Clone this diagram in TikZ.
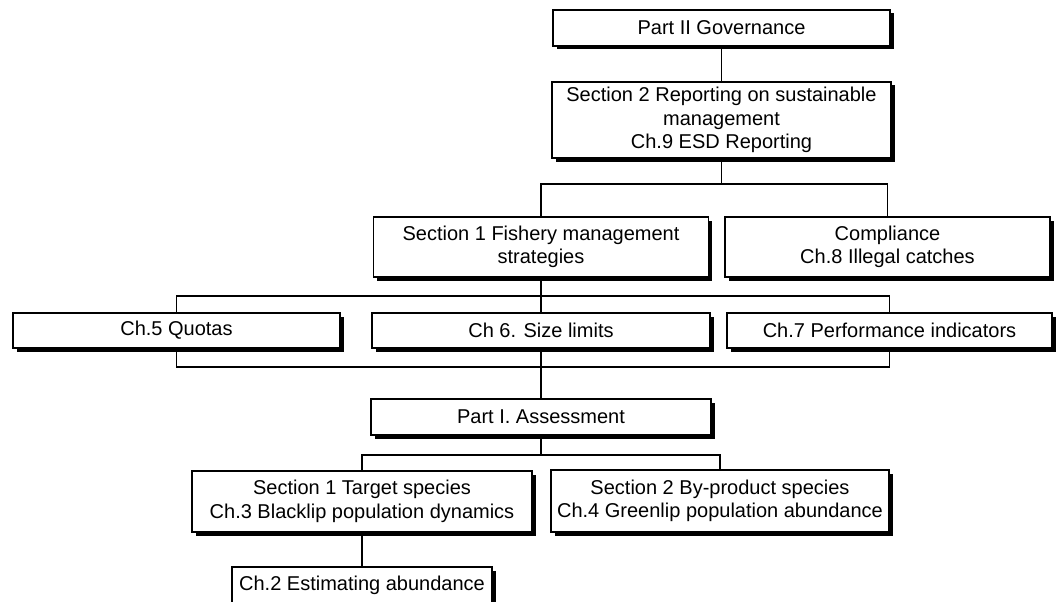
\documentclass[tikz,border=0pt]{standalone}
\usepackage{fontspec}
\setmainfont{Liberation Sans}
\usetikzlibrary{positioning,shadows}
\pgfdeclarelayer{back}
\pgfsetlayers{back,main}

\begin{document}
\begin{tikzpicture}[
    x=1pt, y=-1pt,
    box/.style={draw, fill=white, line width=1.3pt, align=center, inner sep=0pt,
                font=\fontsize{20}{23.5}\selectfont,
                drop shadow={shadow xshift=3.5pt, shadow yshift=-3.5pt, fill=black, opacity=1}},
    conn/.style={line width=1.3pt}
  ]
  \useasboundingbox (0,0) rectangle (1063,602);

  % --- Part II ---
  \node[box, minimum width=337pt, minimum height=36pt] (gov) at (721.5,28) {Part II Governance};
  \node[box, minimum width=339pt, minimum height=76pt] (rep) at (721.5,120)
    {Section 2 Reporting on sustainable\\management\\Ch.9 ESD Reporting};
  \node[box, minimum width=335pt, minimum height=60pt] (fish) at (541,247)
    {Section 1 Fishery management\\strategies};
  \node[box, minimum width=325pt, minimum height=60pt] (comp) at (887.5,247)
    {Compliance\\Ch.8 Illegal catches};

  % --- Chapters ---
  \node[box, minimum width=327pt, minimum height=35pt] (quota) at (176.5,330.5) {Ch.5 Quotas};
  \node[box, minimum width=338pt, minimum height=35pt] (size) at (541,330.5) {Ch 6. Size limits};
  \node[box, minimum width=325pt, minimum height=35pt] (perf) at (889.5,330.5) {Ch.7 Performance indicators};

  % --- Part I ---
  \node[box, minimum width=340pt, minimum height=36pt] (assess) at (541,417) {Part I. Assessment};
  \node[box, minimum width=340pt, minimum height=61pt] (target) at (362,501.5)
    {Section 1 Target species\\Ch.3 Blacklip population dynamics};
  \node[box, minimum width=338pt, minimum height=62pt] (byprod) at (720,501)
    {Section 2 By-product species\\Ch.4 Greenlip population abundance};
  \node[box, minimum width=260pt, minimum height=36pt] (abund) at (362,585) {Ch.2 Estimating abundance};

  % --- Connectors ---
  \coordinate (j1) at (721.5,184);
  \coordinate (j2) at (541,296);
  \coordinate (j3) at (541,367);
  \coordinate (j4) at (541,455);
  \begin{pgfonlayer}{back}
    \draw[conn] (gov) -- (rep);
    \draw[conn] (rep.south) -- (j1);
    \draw[conn] (fish.north) |- (j1) -| (comp.north);
    \draw[conn] (fish.south) -- (assess.north);
    \draw[conn] (quota.north) |- (j2) -| (perf.north);
    \draw[conn] (quota.south) |- (j3) -| (perf.south);
    \draw[conn] (assess.south) -- (j4);
    \draw[conn] (target.north) |- (j4) -| (byprod.north);
    \draw[conn] (target) -- (abund);
  \end{pgfonlayer}
\end{tikzpicture}
\end{document}
